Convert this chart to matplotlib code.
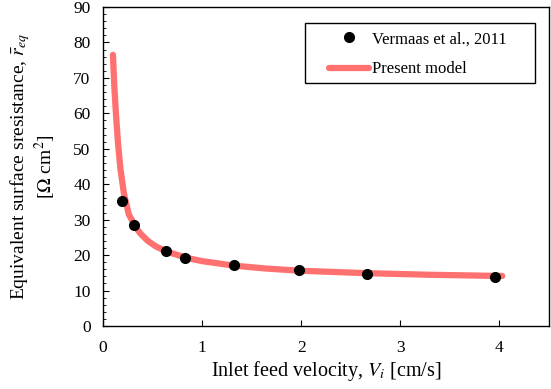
import matplotlib
matplotlib.use("Agg")
import matplotlib.pyplot as plt
from matplotlib.ticker import MultipleLocator
from matplotlib.patches import Rectangle

plt.rcParams['font.family'] = ['Liberation Serif', 'DejaVu Serif']
plt.rcParams['mathtext.fontset'] = 'stix'

# experimental points (Vermaas et al., 2011)
exp_v = [0.19, 0.31, 0.64, 0.83, 1.32, 1.98, 2.66, 3.96]
exp_r = [35.3, 28.5, 21.2, 19.2, 17.2, 15.8, 14.7, 13.8]

# present model curve
model_v = [0.100, 0.115, 0.130, 0.150, 0.175, 0.21, 0.26, 0.336, 0.38, 0.453,
           0.53, 0.64, 0.79, 0.88, 1.0, 1.33, 1.65, 1.98, 2.66, 3.3, 4.03]
model_r = [76.5, 67, 60, 52, 44.5, 37.5, 31.5, 27.6, 26.0, 24.0,
           22.5, 21.0, 19.7, 19.0, 18.3, 17.0, 16.2, 15.6, 14.9, 14.45, 14.1]

fig = plt.figure(figsize=(5.51, 3.89), dpi=100)
ax = fig.add_axes([0.187, 0.162, 0.809, 0.820])

ax.plot(model_v, model_r, color='#ff7070', lw=4.5, solid_capstyle='round',
        label='Present model', zorder=2)
ax.plot(exp_v, exp_r, 'o', color='black', ms=7, ls='none',
        label='Vermaas et al., 2011', zorder=3)

ax.set_xlim(0, 4.5)
ax.set_ylim(0, 90)
ax.set_xticks([0, 1, 2, 3, 4])
ax.yaxis.set_major_locator(MultipleLocator(10))
ax.yaxis.set_minor_locator(MultipleLocator(2))
ax.tick_params(axis='both', which='both', direction='in', labelsize=12.5)
ax.tick_params(axis='x', pad=10)
ax.tick_params(axis='y', pad=9)
ax.tick_params(which='major', length=4)
ax.tick_params(which='minor', length=2.5)
for s in ax.spines.values():
    s.set_linewidth(1.0)

ax.set_xlabel('Inlet feed velocity, $V_i$ [cm/s]', fontsize=14.5)
ax.xaxis.set_label_coords(0.5, -0.105)
ax.set_ylabel('Equivalent surface sresistance, $\\bar{r}_{eq}$\n[$\\Omega$ cm$^2$]',
              fontsize=14, linespacing=1.05)
ax.yaxis.set_label_coords(-0.100, 0.5)

# legend: box drawn by hand, content placed inside
ax.add_patch(Rectangle((0.453, 0.763), 0.516, 0.188, transform=ax.transAxes,
                       fill=False, edgecolor='black', lw=1.0, zorder=4))
h, l = ax.get_legend_handles_labels()
leg = ax.legend(h[::-1], l[::-1], loc='upper left', bbox_to_anchor=(0.507, 0.924),
                fontsize=12, frameon=False, handlelength=2.4, handletextpad=0.15,
                borderpad=0, borderaxespad=0, labelspacing=0.85)

fig.savefig('out.png', dpi=100)
